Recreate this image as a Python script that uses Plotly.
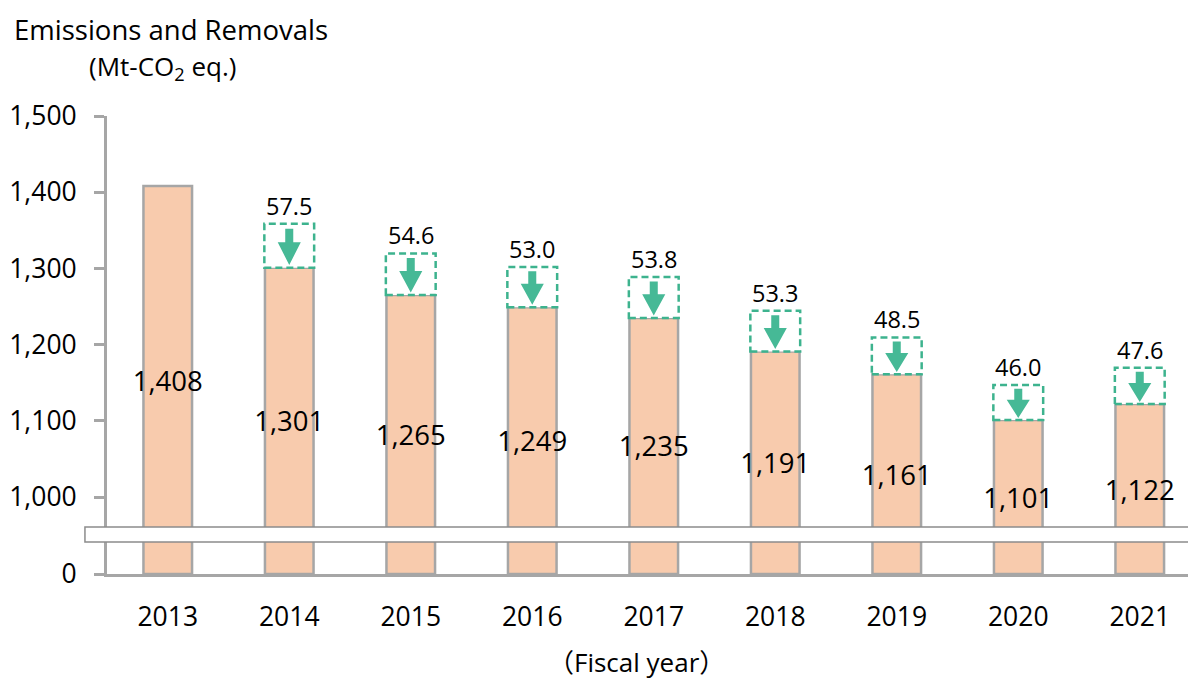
import plotly.graph_objects as go

years = ["2013", "2014", "2015", "2016", "2017", "2018", "2019", "2020", "2021"]
emissions = [1408, 1301, 1265, 1249, 1235, 1191, 1161, 1101, 1122]
removals = [None, 57.5, 54.6, 53.0, 53.8, 53.3, 48.5, 46.0, 47.6]
y_tick_values = [1000, 1100, 1200, 1300, 1400, 1500]
y_tick_labels = ["1,000", "1,100", "1,200", "1,300", "1,400", "1,500"]

FLOOR = 899          # value drawn at the bottom of the broken axis (labelled "0")
BAR_W = 0.40
BOX_HALF = 0.205
BAR_FILL = "#F8CBAD"
GRAY = "#A6A6A6"
GREEN_LINE = "#3DB38E"
GREEN_FILL = "#46B996"
FONT = "Open Sans, Noto Sans CJK JP, sans-serif"

xs = list(range(len(years)))

fig = go.Figure()
fig.add_trace(go.Bar(
    x=xs,
    y=[v - FLOOR for v in emissions],
    base=FLOOR,
    width=BAR_W,
    marker=dict(color=BAR_FILL, line=dict(color=GRAY, width=2.5)),
    text=[f"{v:,}" for v in emissions],
    textposition="inside",
    insidetextanchor="middle",
    textangle=0,
    constraintext="none",
    insidetextfont=dict(family=FONT, size=27.5, color="black"),
    hoverinfo="skip",
))

shapes = []
annotations = []
for i, (v, r) in enumerate(zip(emissions, removals)):
    if r is None:
        continue
    top = v + r
    shapes.append(dict(type="rect", xref="x", yref="y",
                       x0=i - BOX_HALF, x1=i + BOX_HALF, y0=v, y1=top,
                       line=dict(color=GREEN_LINE, width=2.5, dash="7px,4px"),
                       fillcolor="rgba(255,255,255,1)", layer="above"))
    y_shaft_top = top - 0.11 * r
    y_head = top - 0.42 * r
    y_tip = top - 0.94 * r
    sw, hw = 0.033, 0.095
    path = (f"M {i - sw},{y_shaft_top} L {i + sw},{y_shaft_top} L {i + sw},{y_head} "
            f"L {i + hw},{y_head} L {i},{y_tip} L {i - hw},{y_head} L {i - sw},{y_head} Z")
    shapes.append(dict(type="path", xref="x", yref="y", path=path,
                       fillcolor=GREEN_FILL, line=dict(width=0), layer="above"))
    annotations.append(dict(x=i, y=top, xref="x", yref="y", text=f"{r:.1f}",
                            showarrow=False, yanchor="bottom", yshift=0,
                            font=dict(family=FONT, size=23.5, color="black")))

# axis break band
shapes.append(dict(type="rect", xref="paper", yref="paper",
                   x0=-0.0204, x1=1.05, y0=0.0699, y1=0.1026,
                   fillcolor="white", line=dict(color="#8C8C8C", width=1.5), layer="above"))

annotations += [
    dict(x=-0.0879, y=1.1878, xref="paper", yref="paper", text="Emissions and Removals",
         showarrow=False, xanchor="left", yanchor="middle",
         font=dict(family=FONT, size=27.5, color="black")),
    dict(x=-0.0185, y=1.106, xref="paper", yref="paper", text="(Mt-CO<sub>2</sub> eq.)",
         showarrow=False, xanchor="left", yanchor="middle",
         font=dict(family=FONT, size=26, color="black")),
    dict(x=0.490, y=-0.192, xref="paper", yref="paper", text="（Fiscal year）",
         showarrow=False, xanchor="center", yanchor="middle",
         font=dict(family=FONT, size=26, color="black")),
]

fig.update_layout(
    width=1188, height=681,
    margin=dict(l=107, r=0, t=116, b=107),
    paper_bgcolor="white", plot_bgcolor="white",
    showlegend=False,
    shapes=shapes, annotations=annotations,
    xaxis=dict(range=[-0.5, 8.397], tickmode="array", tickvals=xs, ticktext=years,
               showgrid=False, zeroline=False, showline=True, linecolor=GRAY, linewidth=3,
               ticks="", ticklabelstandoff=17,
               tickfont=dict(family=FONT, size=26.5, color="black")),
    yaxis=dict(range=[FLOOR, 1500], tickmode="array",
               tickvals=[FLOOR] + y_tick_values, ticktext=["0"] + y_tick_labels,
               showgrid=False, zeroline=False, showline=True, linecolor=GRAY, linewidth=3,
               ticks="outside", ticklen=10, tickwidth=3, tickcolor=GRAY,
               ticklabelstandoff=12,
               tickfont=dict(family=FONT, size=26.5, color="black")),
)

fig.write_html("out.html", config={"displayModeBar": False},
               post_script="document.body.style.margin='0';document.body.style.overflow='hidden';")
